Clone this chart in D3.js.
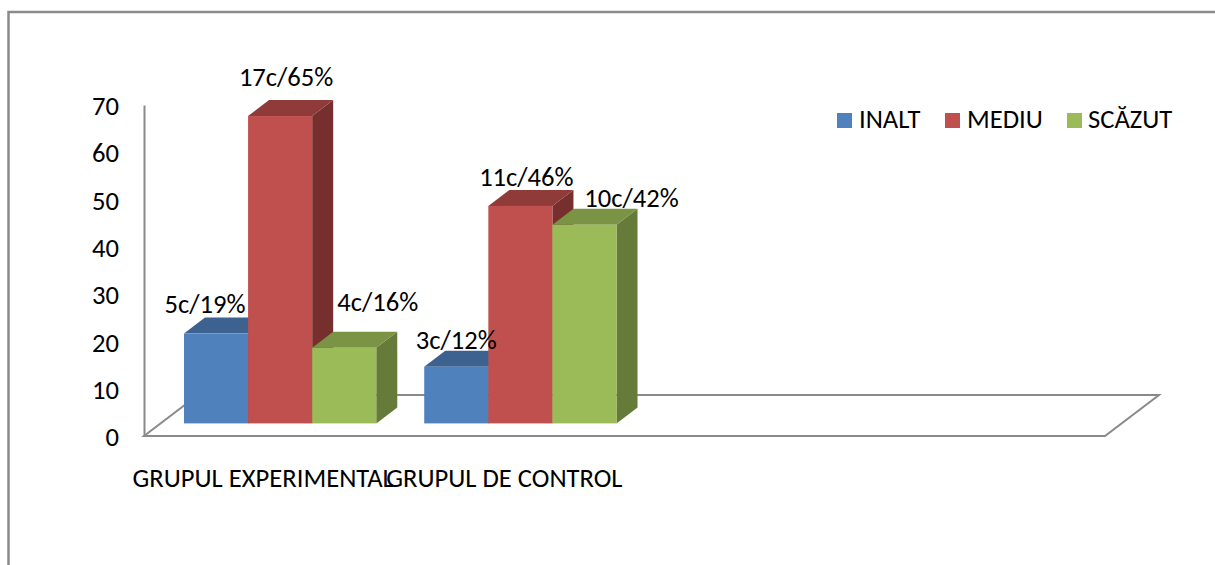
<!DOCTYPE html>
<html><head><meta charset="utf-8">
<script src="https://cdn.jsdelivr.net/npm/d3@7"></script>
<style>html,body{margin:0;padding:0;background:#fff}svg{display:block}text{font-family:Carlito,Lato,"Open Sans",sans-serif;fill:#000}</style>
</head><body><script>
const categories = ["GRUPUL EXPERIMENTAL","GRUPUL DE CONTROL","",""];
const seriesNames = ["INALT","MEDIU","SCĂZUT"];
const inalt = [19,12];
const mediu = [65,46];
const scazut = [16,42];
const labelsInalt = ["5c/19%","3c/12%"];
const labelsMediu = ["17c/65%","11c/46%"];
const labelsScazut = ["4c/16%","10c/42%"];
const yTicks = [0,10,20,30,40,50,60,70];
const frontColors = ["#4F81BD","#C0504D","#9BBB59"];
const topColors = ["#3E628F","#8F3B39","#7A9345"];
const sideColors = ["#2F4B70","#772F2D","#667B3A"];
const labelNudge = [[[-11,-21],[0,-18]],[[6,-30],[6,-20]],[[33.5,-37],[47,-18]]];

const W=1215,H=565,AXX=144,AXR=1105,AXB=436,AXT=105,FS=26.6;
const svg=d3.select("body").append("svg").attr("width",W).attr("height",H);
const grey="#8A8A8A";

svg.append("path").attr("d",`M8.5,${H}V12H${W}`).attr("fill","none").attr("stroke",grey).attr("stroke-width",2.5);

const x=d3.scaleBand().domain(categories.map((c,i)=>i)).range([AXX,AXR]);
const y=d3.scaleLinear().domain([0,70]).range([AXB,AXT]);
const barShiftX=16,barShiftY=-12.6,depthX=21,depthY=-16,floorDX=54,floorDY=-41;
const inner=d3.scaleBand().domain(seriesNames).range([0,x.step()]).paddingInner(0).paddingOuter(0.374);

// floor
svg.append("path").attr("d",`M${AXX},${AXB}H${AXR}L${AXR+floorDX},${AXB+floorDY}H${AXX+floorDX}Z`)
  .attr("fill","none").attr("stroke",grey).attr("stroke-width",2);

// axis
const ax=svg.append("g").attr("transform",`translate(${AXX},0)`)
  .call(d3.axisLeft(y).tickValues(yTicks).tickSize(0).tickPadding(25));
ax.select(".domain").attr("stroke",grey).attr("stroke-width",2);
ax.selectAll("text").attr("font-size",FS).style("font-family",'Carlito,Lato,"Open Sans",sans-serif').attr("dy","0.36em");

// category labels
svg.append("g").selectAll("text").data(categories.filter(c=>c)).join("text")
  .attr("x",(c,i)=>x(i)+x.bandwidth()/2-(i==0?1:0)).attr("y",487)
  .attr("text-anchor","middle").attr("font-size",FS).text(c=>c);

const values=[inalt,mediu,scazut], labels=[labelsInalt,labelsMediu,labelsScazut];
const rows=[];
categories.slice(0,2).forEach((c,ci)=>seriesNames.forEach((s,si)=>rows.push({ci,si,v:values[si][ci],lab:labels[si][ci]})));
const px=d=>x(d.ci)+barShiftX+inner(seriesNames[d.si]);
const pw=inner.bandwidth();
const pTop=d=>y(d.v)+barShiftY, pBot=y(0)+barShiftY;
const g=svg.append("g");
const bars=g.selectAll("g").data(rows).join("g");
bars.append("path").attr("fill",d=>sideColors[d.si])
  .attr("d",d=>`M${px(d)+pw},${pTop(d)}l${depthX},${depthY}V${pBot+depthY}l${-depthX},${-depthY}Z`);
bars.append("path").attr("fill",d=>topColors[d.si])
  .attr("d",d=>`M${px(d)},${pTop(d)}l${depthX},${depthY}h${pw}l${-depthX},${-depthY}Z`);
bars.append("rect").attr("fill",d=>frontColors[d.si])
  .attr("x",px).attr("y",pTop).attr("width",pw).attr("height",d=>pBot-pTop(d));

// data labels
svg.append("g").selectAll("text").data(rows).join("text")
  .attr("x",d=>px(d)+pw/2+labelNudge[d.si][d.ci][0])
  .attr("y",d=>pTop(d)+labelNudge[d.si][d.ci][1])
  .attr("text-anchor","middle").attr("font-size",FS).text(d=>d.lab);

// legend
const legX=[837,945,1067];
const leg=svg.append("g").selectAll("g").data(seriesNames).join("g").attr("transform",(s,i)=>`translate(${legX[i]},113)`);
leg.append("rect").attr("width",15).attr("height",15).attr("fill",(s,i)=>frontColors[i]);
leg.append("text").attr("x",(s,i)=>i==2?21:22).attr("y",15).attr("font-size",FS).text(s=>s);
</script></body></html>
